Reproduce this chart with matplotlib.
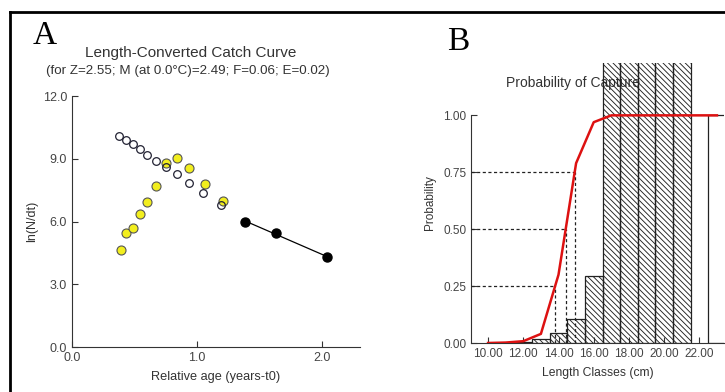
import numpy as np
import matplotlib.pyplot as plt
from matplotlib.lines import Line2D

plt.rcParams['font.family'] = ['Liberation Sans', 'DejaVu Sans']
plt.rcParams['hatch.linewidth'] = 0.65
plt.rcParams['hatch.color'] = '#505050'

# panel A: length-converted catch curve
age_open = [0.376, 0.429, 0.485, 0.541, 0.60, 0.669, 0.749, 0.837, 0.936, 1.05, 1.19]
ln_open = [10.08, 9.89, 9.69, 9.45, 9.17, 8.89, 8.62, 8.25, 7.82, 7.34, 6.77]
age_yellow = [0.392, 0.432, 0.485, 0.544, 0.60, 0.669, 0.749, 0.837, 0.936, 1.059, 1.203]
ln_yellow = [4.66, 5.47, 5.71, 6.38, 6.94, 7.71, 8.81, 9.03, 8.57, 7.77, 7.00]
age_black = [1.379, 1.629, 2.037]
ln_black = [5.98, 5.47, 4.29]

# panel B: probability of capture
class_mid = [12, 13, 14, 15, 16, 17, 18, 19, 20, 21, 23]
class_prob = [0.006, 0.017, 0.045, 0.105, 0.295, 1.3, 1.3, 1.3, 1.3, 1.3, 1.0]
class_hatched = [True] * 10 + [False]
curve_len = [10, 11, 12, 13, 14, 15, 16, 17, 18, 19, 20, 21, 22, 23]
curve_prob = [0.0, 0.002, 0.008, 0.04, 0.30, 0.79, 0.97, 1.0, 1.0, 1.0, 1.0, 1.0, 1.0, 1.0]
levels = [0.25, 0.50, 0.75]

grey = '#444444'
fig = plt.figure(figsize=(7.25, 3.92), dpi=100)

# frame lines round the figure
fig.add_artist(Line2D([10/725, 1], [1 - 12/392, 1 - 12/392], color='black', lw=2))
fig.add_artist(Line2D([10/725, 10/725], [0, 1 - 12/392], color='black', lw=2))

fig.text(33/725, 1 - 44/392, 'A', family=['Liberation Serif', 'DejaVu Serif'], fontsize=24)
fig.text(447/725, 1 - 50/392, 'B', family=['Liberation Serif', 'DejaVu Serif'], fontsize=24)

# ---- A ----
ax = fig.add_axes([72/725, 1 - 347/392, 288/725, 251/392])
ax.plot(age_yellow, ln_yellow, 'o', ms=6.5, mfc='#f2ee1e', mec='#555555', mew=0.8, zorder=3)
ax.plot(age_open, ln_open, 'o', ms=5.5, mfc='none', mec='#222233', mew=0.9, zorder=4)
ax.plot(age_black, ln_black, 'o', ms=6.5, color='black', zorder=5)
fit = np.polyfit(age_black, ln_black, 1)
ax.plot(age_black, np.polyval(fit, age_black), color='black', lw=0.9)
ax.set_xlim(0, 2.3)
ax.set_ylim(0, 12)
ax.set_xticks([0, 1, 2], ['0.0', '1.0', '2.0'])
ax.set_yticks([0, 3, 6, 9, 12], ['0.0', '3.0', '6.0', '9.0', '12.0'])
ax.tick_params(direction='in', length=4, labelsize=9, labelcolor=grey, color='#333333')
for s in ['top', 'right']:
    ax.spines[s].set_visible(False)
for s in ['left', 'bottom']:
    ax.spines[s].set_color('#333333')
ax.set_xlabel('Relative age (years-t0)', fontsize=9.2, color='#333333', labelpad=5)
ax.set_ylabel('ln(N/dt)', fontsize=9, color='#333333', labelpad=3)
fig.text(191/725, 1 - 53/392, 'Length-Converted Catch Curve', ha='center', va='center',
         fontsize=11, color='#333333')
fig.text(188/725, 1 - 71/392, '(for Z=2.55; M (at 0.0\u00b0C)=2.49; F=0.06; E=0.02)',
         ha='center', va='center', fontsize=9.6, color='#333333')

# ---- B ----
bx = fig.add_axes([471/725, 1 - 343/392, 253/725, 280/392])
bx.set_xlim(9.03, 23.4)
bx.set_ylim(0, 1.23)
bx.text(14.8, 1.14, 'Probability of Capture', ha='center', va='center',
        fontsize=10, color='#333333', zorder=1)
for m, p, h in zip(class_mid, class_prob, class_hatched):
    bx.bar(m, p, width=1.0, facecolor='none', edgecolor='#222222', lw=0.9,
           hatch='\\' * 6 if h else None, zorder=2)
bx.plot(curve_len, curve_prob, color='#dd1111', lw=1.8, zorder=5)
for lv in levels:
    xc = np.interp(lv, curve_prob[:7], curve_len[:7])
    bx.plot([9.03, xc], [lv, lv], ls=(0, (2.5, 2)), color='#222222', lw=0.9, zorder=4)
    bx.plot([xc, xc], [0, lv], ls=(0, (2.5, 2)), color='#222222', lw=0.9, zorder=4)
bx.set_xticks([10, 12, 14, 16, 18, 20, 22], ['10.00', '12.00', '14.00', '16.00', '18.00', '20.00', '22.00'])
bx.set_yticks([0, 0.25, 0.5, 0.75, 1.0], ['0.00', '0.25', '0.50', '0.75', '1.00'])
bx.tick_params(direction='in', length=4, labelsize=8.5, labelcolor=grey, color='#333333')
for s in ['top', 'right']:
    bx.spines[s].set_visible(False)
for s in ['left', 'bottom']:
    bx.spines[s].set_color('#333333')
bx.spines['left'].set_bounds(0, 1.0)
bx.set_xlabel('Length Classes (cm)', fontsize=8.7, color='#333333', labelpad=5)
bx.set_ylabel('Probability', fontsize=8.5, color='#333333', labelpad=5)

fig.savefig('out.png', dpi=100)
